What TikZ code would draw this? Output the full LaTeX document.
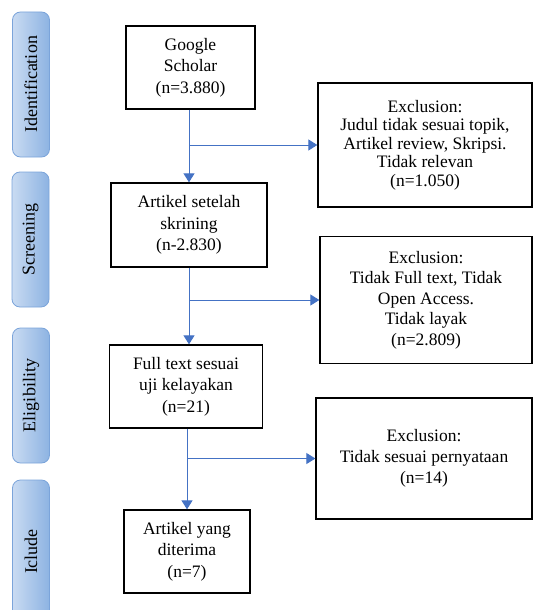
\documentclass[tikz,border=0pt]{standalone}
\usepackage{fontspec}
\setmainfont{Liberation Serif}
\usetikzlibrary{arrows.meta}

\definecolor{flowblue}{HTML}{4472C4}
\definecolor{sideleft}{HTML}{C9DBF2}
\definecolor{sideright}{HTML}{8DB3E2}
\definecolor{sideline}{HTML}{7BA4DA}

\begin{document}
\begin{tikzpicture}[x=1pt,y=-1pt,
  box/.style={draw=black,line width=1.3pt,align=center,inner sep=0pt,
    font=\fontsize{17.5}{21.7}\selectfont},
  exclbox/.style={box,font=\fontsize{17.5}{#1}\selectfont},
  phase/.style={draw=sideline,line width=0.8pt,rounded corners=8pt,
    left color=sideleft,right color=sideright,inner sep=0pt,
    minimum width=37pt},
  phasetext/.style={rotate=90,font=\fontsize{18}{20}\selectfont},
  flow/.style={draw=flowblue,line width=1pt,-{Triangle[width=11pt,length=9pt]}}]
\useasboundingbox (0,0) rectangle (533,610);
% main column
\node[box,minimum width=129pt,minimum height=83pt] (scholar) at (190.5,67.5)
  {Google\\Scholar\\(n=3.880)};
\node[box,minimum width=156pt,minimum height=84pt] (skrining) at (189,225)
  {Artikel setelah\\skrining\\(n-2.830)};
\node[box,minimum width=153pt,minimum height=83pt] (fulltext) at (186,386.5)
  {Full text sesuai\\uji kelayakan\\(n=21)};
\node[box,minimum width=126pt,minimum height=83pt] (diterima) at (187,551.5)
  {Artikel yang\\diterima\\(n=7)};
% phases on the left
\node[phase,minimum height=145pt] (identification) at (31,84.5) {};
\node[phasetext] at (identification) {Identification};
\node[phase,minimum height=135pt] (screening) at (30.5,239.5) {};
\node[phasetext] at (screening) {Screening};
\node[phase,minimum height=135pt] (eligibility) at (31,395.5) {};
\node[phasetext] at (eligibility) {Eligibility};
\node[phase,minimum height=146pt] (iclude) at (31,553) {};
\node[phasetext] at (iclude.center |- diterima.center) {Iclude};
% exclusions
\node[exclbox=18.6,minimum width=214pt,minimum height=124pt] (excl1) at (425,145)
  {Exclusion:\\Judul tidak sesuai topik,\\Artikel review, Skripsi.\\Tidak relevan\\(n=1.050)};
\node[exclbox=20.5,minimum width=212pt,minimum height=127pt] (excl2) at (426,300)
  {Exclusion:\\Tidak Full text, Tidak\\Open Access.\\Tidak layak\\(n=2.809)};
\node[exclbox=21,minimum width=216pt,minimum height=121pt] (excl3) at (424,458.5)
  {Exclusion:\\Tidak sesuai pernyataan\\(n=14)};
% connectors
\draw[flow] (skrining.north |- scholar.south) -- (skrining.north);
\draw[flow] (skrining.north |- excl1.west) -- (excl1.west);
\draw[flow] (skrining.south) -- (skrining.south |- fulltext.north);
\draw[flow] (skrining.south |- excl2.west) -- (excl2.west);
\draw[flow] (fulltext.south -| diterima.north) -- (diterima.north);
\draw[flow] (diterima.north |- excl3.west) -- (excl3.west);
\end{tikzpicture}
\end{document}
